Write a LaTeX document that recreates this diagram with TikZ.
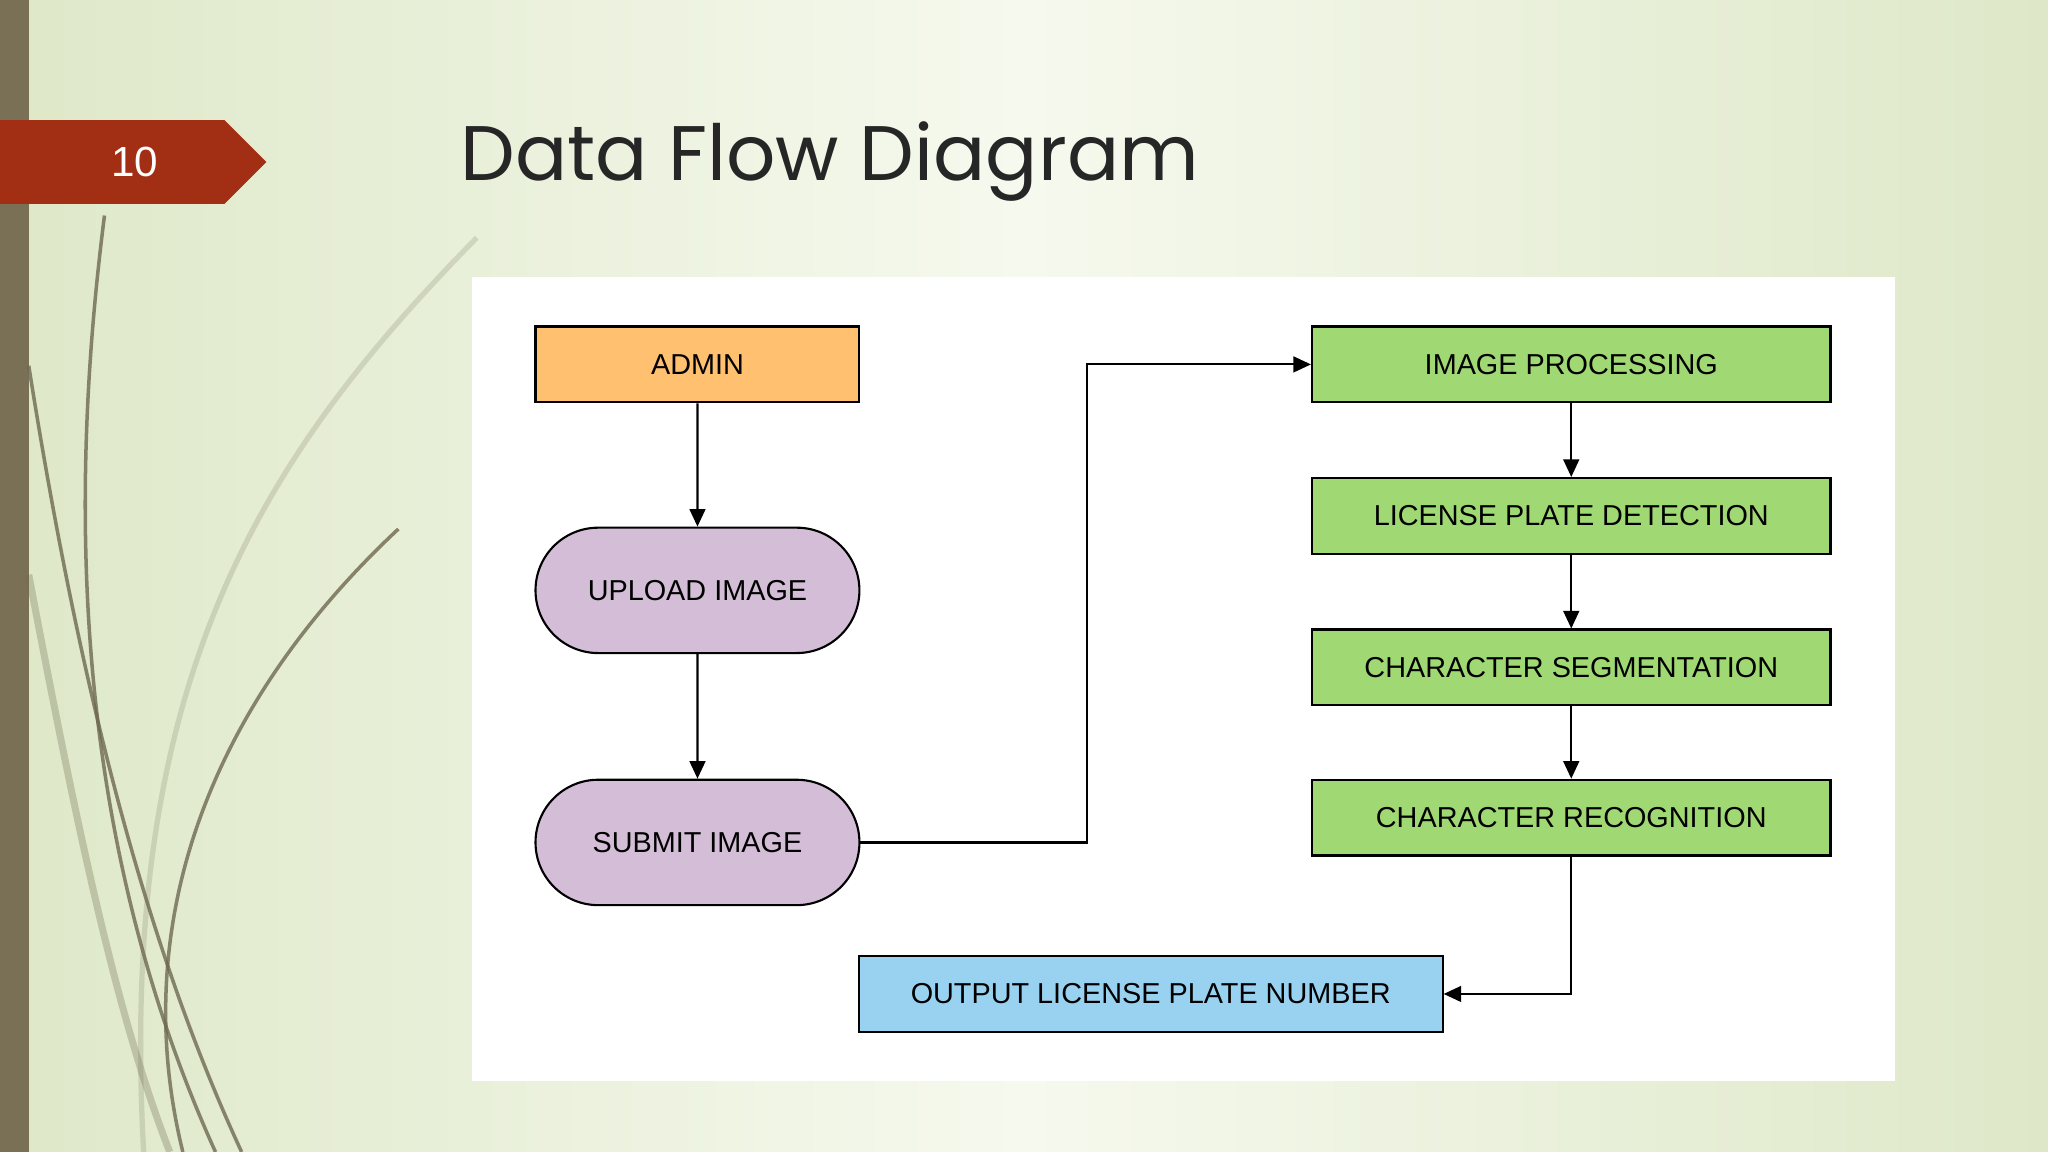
\documentclass[tikz,border=0pt]{standalone}
\usepackage{fontspec}
\setmainfont{Liberation Sans}
\newfontfamily\titlefont{Poppins}
\usetikzlibrary{arrows.meta,shapes.misc}
\definecolor{bgedge}{RGB}{222,232,200}
\definecolor{bgmid}{RGB}{246,249,238}
\definecolor{sidebar}{RGB}{122,112,86}
\definecolor{tabred}{RGB}{162,46,20}
\definecolor{adminorange}{RGB}{255,192,112}
\definecolor{lavender}{RGB}{212,190,215}
\definecolor{procgreen}{RGB}{160,216,116}
\definecolor{outblue}{RGB}{152,210,240}
\definecolor{grass}{RGB}{110,105,80}
\begin{document}
\begin{tikzpicture}[x=0.01306cm,y=-0.01306cm,
    box/.style={draw=black,line width=0.6pt,font=\fontsize{8.2}{10}\selectfont,inner sep=0pt},
    pill/.style={box,rounded rectangle},
    flow/.style={-{Triangle[length=5pt,width=4.5pt]},line width=0.6pt}]
  % background
  \shade[left color=bgedge,right color=bgedge,middle color=bgmid] (0,0) rectangle (1568,882);
  \useasboundingbox (0,0) rectangle (1568,882);
  \fill[sidebar] (0,0) rectangle (22,882);
  % grass strokes
  \begin{scope}[grass,line width=1pt,opacity=0.8]
    \draw (80,165) .. controls (50,400) and (60,650) .. (165,882);
    \draw (305,405) .. controls (150,550) and (100,720) .. (140,882);
    \draw (22,280) .. controls (60,520) and (110,720) .. (185,882);
    \draw[opacity=0.2,line width=1.5pt] (365,182) .. controls (200,350) and (90,520) .. (110,882);
    \draw[opacity=0.3,line width=2pt] (22,440) .. controls (60,640) and (90,780) .. (130,882);
  \end{scope}
  % slide number tab
  \fill[tabred] (0,92) -- (172,92) -- (204,124) -- (172,156) -- (0,156) -- cycle;
  \node[text=white,font=\fontsize{12}{14}\selectfont] (num) at (103,124) {10};
  \node[anchor=west,text=black!85,font=\titlefont\fontsize{22}{26}\selectfont] (title) at (343,124) {Data Flow Diagram};
  % panel
  \fill[white] (361,212) rectangle (1451,828);
  % nodes
  \node[box,fill=adminorange,minimum width=248*0.01306cm,minimum height=58*0.01306cm] (admin) at (534,279) {ADMIN};
  \node[pill,fill=lavender,minimum width=248*0.01306cm,minimum height=96*0.01306cm] (upload) at (534,452) {UPLOAD IMAGE};
  \node[pill,fill=lavender,minimum width=248*0.01306cm,minimum height=96*0.01306cm] (submit) at (534,645) {SUBMIT IMAGE};
  \foreach \n/\t/\y in {ip/IMAGE PROCESSING/279,lpd/LICENSE PLATE DETECTION/395,cs/CHARACTER SEGMENTATION/511,cr/CHARACTER RECOGNITION/626}
    \node[box,fill=procgreen,minimum width=397*0.01306cm,minimum height=58*0.01306cm] (\n) at (1203,\y) {\t};
  \node[box,fill=outblue,minimum width=447*0.01306cm,minimum height=58*0.01306cm] (out) at (881,761) {OUTPUT LICENSE PLATE NUMBER};
  % connectors
  \coordinate (bend) at (832,0);
  \draw[flow] (admin) -- (upload);
  \draw[flow] (upload) -- (submit);
  \draw[flow] (submit.east) -- (submit.east -| bend) -- (ip.west -| bend) -- (ip.west);
  \draw[flow] (ip) -- (lpd);
  \draw[flow] (lpd) -- (cs);
  \draw[flow] (cs) -- (cr);
  \draw[flow] (cr.south) |- (out.east);
\end{tikzpicture}
\end{document}
